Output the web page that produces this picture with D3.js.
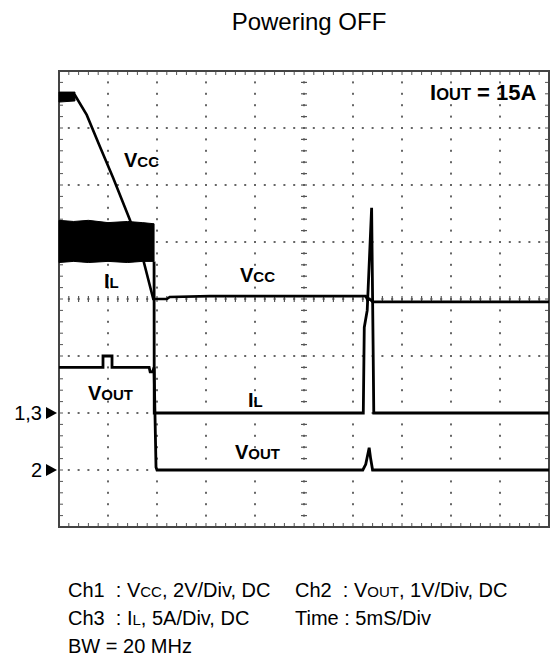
<!DOCTYPE html>
<html><head><meta charset="utf-8">
<script src="https://cdn.jsdelivr.net/npm/d3@7"></script>
<style>
body{margin:0;background:#fff}
svg{display:block}
text{font-family:Arial,"Liberation Sans",Helvetica,sans-serif;white-space:pre;fill:#000}
</style>
</head><body>
<svg id="c" width="557" height="666"></svg>
<script>
// ---------- data (time in ms, 5 ms/div, 10 div; 8 vertical div) ----------
const timeDomain = [0, 50];
const divDomain = [0, 8];
// channel ranges across the 8 divisions (ground marker at div 2 for ch1/ch3, div 1 for ch2)
const vccDomain = [-4, 12];   // Ch1 2 V/div
const ilDomain = [-10, 30];   // Ch3 5 A/div
const voutDomain = [-1, 7];   // Ch2 1 V/div

// Ch1 Vcc
const vccT = [0, 1.63, 2.83, 4.18, 5.54, 7.24, 8.60, 9.62, 11.0, 11.3, 15.4, 31.3, 31.5, 31.7, 32.0, 50];
const vccV = [11.1, 11.15, 10.46, 9.34, 8.24, 6.77, 5.37, 4.0, 4.0, 4.07, 4.1, 4.1, 3.95, 4.0, 3.9, 3.9];
// Vcc noise band at start
const vccBandT = [0, 1.63];
const vccBandHi = [11.26, 11.26];
const vccBandLo = [10.91, 10.95];

// Ch3 IL ripple band before turn-off
const ilBandT = [0, 1.5, 3.0, 5.0, 7.0, 8.5, 9.7];
const ilBandHi = [16.9, 16.8, 16.9, 16.7, 16.8, 16.7, 16.6];
const ilBandLo = [13.2, 13.3, 13.2, 13.3, 13.2, 13.3, 13.3];
// Ch3 IL after turn-off
const ilT = [9.7, 9.72, 31.05, 31.15, 31.45, 31.55, 31.9, 32.05, 32.12, 50];
const ilA = [13.3, 0, 0, 7.5, 9, 11, 18, 6, 0, 0];

// Ch2 Vout
const voutT = [0, 4.49, 4.49, 5.41, 5.41, 9.2, 9.3, 9.55, 9.7, 9.9, 10.0, 31.0, 31.3, 31.65, 31.8, 32.0, 50];
const voutV = [1.8, 1.8, 2.0, 2.0, 1.8, 1.8, 1.72, 1.72, 1.8, 0.05, 0, 0, 0.1, 0.39, 0.2, 0, 0];

// ground markers (division positions)
const markerLabels = ["1,3", "2"];
const markerDivs = [2, 1];

// text
const title = "Powering OFF";
const noteLines = [
  [["Ch1  : V", 0], ["CC", 1], [", 2V/Div, DC", 0]],
  [["Ch3  : I", 0], ["L", 1], [", 5A/Div, DC", 0]],
  [["BW = 20 MHz", 0]]
];
const noteLines2 = [
  [["Ch2  : V", 0], ["OUT", 1], [", 1V/Div, DC", 0]],
  [["Time : 5mS/Div", 0]]
];

// ---------- layout ----------
const L = 59, R = 549, T = 71, B = 527;
const svg = d3.select("#c");
const x = d3.scaleLinear().domain(timeDomain).range([L, R]);
const yDiv = d3.scaleLinear().domain(divDomain).range([B, T]);
const yVcc = d3.scaleLinear().domain(vccDomain).range([B, T]);
const yIL = d3.scaleLinear().domain(ilDomain).range([B, T]);
const yVout = d3.scaleLinear().domain(voutDomain).range([B, T]);

// title
svg.append("text").attr("x", 309).attr("y", 30).attr("text-anchor", "middle")
  .attr("font-size", 24).text(title);

// grid dots
const g = svg.append("g");
const majX = d3.range(0, 50.001, 5);
const minX = d3.range(0, 50.001, 1);
const majY = d3.range(0, 8.001, 1);
const minY = d3.range(0, 8.001, 0.2);
const dots = [];
majY.forEach(d => minX.forEach(t => dots.push([x(t), yDiv(d)])));
majX.forEach(t => minY.forEach(d => dots.push([x(t), yDiv(d)])));
g.selectAll("rect.dot").data(dots).join("rect").attr("class", "dot")
  .attr("x", d => d[0] - 1).attr("y", d => d[1] - 1)
  .attr("width", 2).attr("height", 2).attr("fill", "#666");

// center cross ticks
g.selectAll("line.cx").data(minX).join("line").attr("class", "cx")
  .attr("x1", d => x(d)).attr("x2", d => x(d))
  .attr("y1", yDiv(4) - 3).attr("y2", yDiv(4) + 3)
  .attr("stroke", "#555").attr("stroke-width", 1.2);
g.selectAll("line.cy").data(minY).join("line").attr("class", "cy")
  .attr("y1", d => yDiv(d)).attr("y2", d => yDiv(d))
  .attr("x1", x(25) - 3).attr("x2", x(25) + 3)
  .attr("stroke", "#555").attr("stroke-width", 1.2);
// frame ticks
g.selectAll("line.ft").data(minX).join("line").attr("class", "ft")
  .attr("x1", d => x(d)).attr("x2", d => x(d)).attr("y1", T).attr("y2", T + 4)
  .attr("stroke", "#555");
g.selectAll("line.fb").data(minX).join("line").attr("class", "fb")
  .attr("x1", d => x(d)).attr("x2", d => x(d)).attr("y1", B).attr("y2", B - 4)
  .attr("stroke", "#555");
g.selectAll("line.fl").data(minY).join("line").attr("class", "fl")
  .attr("y1", d => yDiv(d)).attr("y2", d => yDiv(d)).attr("x1", L).attr("x2", L + 4)
  .attr("stroke", "#555");
g.selectAll("line.fr").data(minY).join("line").attr("class", "fr")
  .attr("y1", d => yDiv(d)).attr("y2", d => yDiv(d)).attr("x1", R).attr("x2", R - 4)
  .attr("stroke", "#555");
// frame
svg.append("rect").attr("x", L).attr("y", T).attr("width", R - L).attr("height", B - T)
  .attr("fill", "none").attr("stroke", "#444").attr("stroke-width", 2);

// traces
const tr = svg.append("g");
const area = (ys) => d3.area().x(d => x(d[0])).y0(d => ys(d[2])).y1(d => ys(d[1]));
tr.append("path").datum(vccBandT.map((t, i) => [t, vccBandHi[i], vccBandLo[i]]))
  .attr("d", area(yVcc)).attr("fill", "#000").attr("stroke", "#000").attr("stroke-width", 1);
tr.append("path").datum(ilBandT.map((t, i) => [t, ilBandHi[i], ilBandLo[i]]))
  .attr("d", area(yIL)).attr("fill", "#000").attr("stroke", "#000").attr("stroke-width", 1);

const line = (ys) => d3.line().x(d => x(d[0])).y(d => ys(d[1]));
tr.append("path").datum(vccT.map((t, i) => [t, vccV[i]]))
  .attr("d", line(yVcc)).attr("fill", "none").attr("stroke", "#000").attr("stroke-width", 2.6);
tr.append("path").datum(ilT.map((t, i) => [t, ilA[i]]))
  .attr("d", line(yIL)).attr("fill", "none").attr("stroke", "#000").attr("stroke-width", 2.8);
tr.append("path").datum(voutT.map((t, i) => [t, voutV[i]]))
  .attr("d", line(yVout)).attr("fill", "none").attr("stroke", "#000").attr("stroke-width", 2.8);

// labels
function label(xp, yp, parts, big, small, weight) {
  const t = svg.append("text").attr("x", xp).attr("y", yp).attr("font-weight", weight || "bold");
  parts.forEach(p => t.append("tspan").attr("font-size", p[1] ? small : big).text(p[0]));
  return t;
}
label(124, 167, [["V", 0], ["CC", 1]], 20, 15);
label(104, 288, [["I", 0], ["L", 1]], 20, 15);
label(240, 282, [["V", 0], ["CC", 1]], 20, 15);
label(430, 100, [["I", 0], ["OUT", 1], [" = 15A", 0]], 22, 16.5);
label(88, 400, [["V", 0], ["OUT", 1]], 20, 15);
label(248, 407, [["I", 0], ["L", 1]], 20, 15);
label(235, 459, [["V", 0], ["OUT", 1]], 20, 15);

// ground markers
markerDivs.forEach((d, i) => {
  const yy = yDiv(d);
  svg.append("text").attr("x", 42).attr("y", yy + 7).attr("text-anchor", "end")
    .attr("font-size", 20).text(markerLabels[i]);
  svg.append("path").attr("d", `M${L - 13},${yy - 6}L${L - 2},${yy}L${L - 13},${yy + 6}Z`).attr("fill", "#000");
});

// notes
noteLines.forEach((ln, i) => label(68, 597 + i * 28, ln, 20, 15, "normal"));
noteLines2.forEach((ln, i) => label(295, 597 + i * 28, ln, 20, 15, "normal"));
</script>
</body></html>
